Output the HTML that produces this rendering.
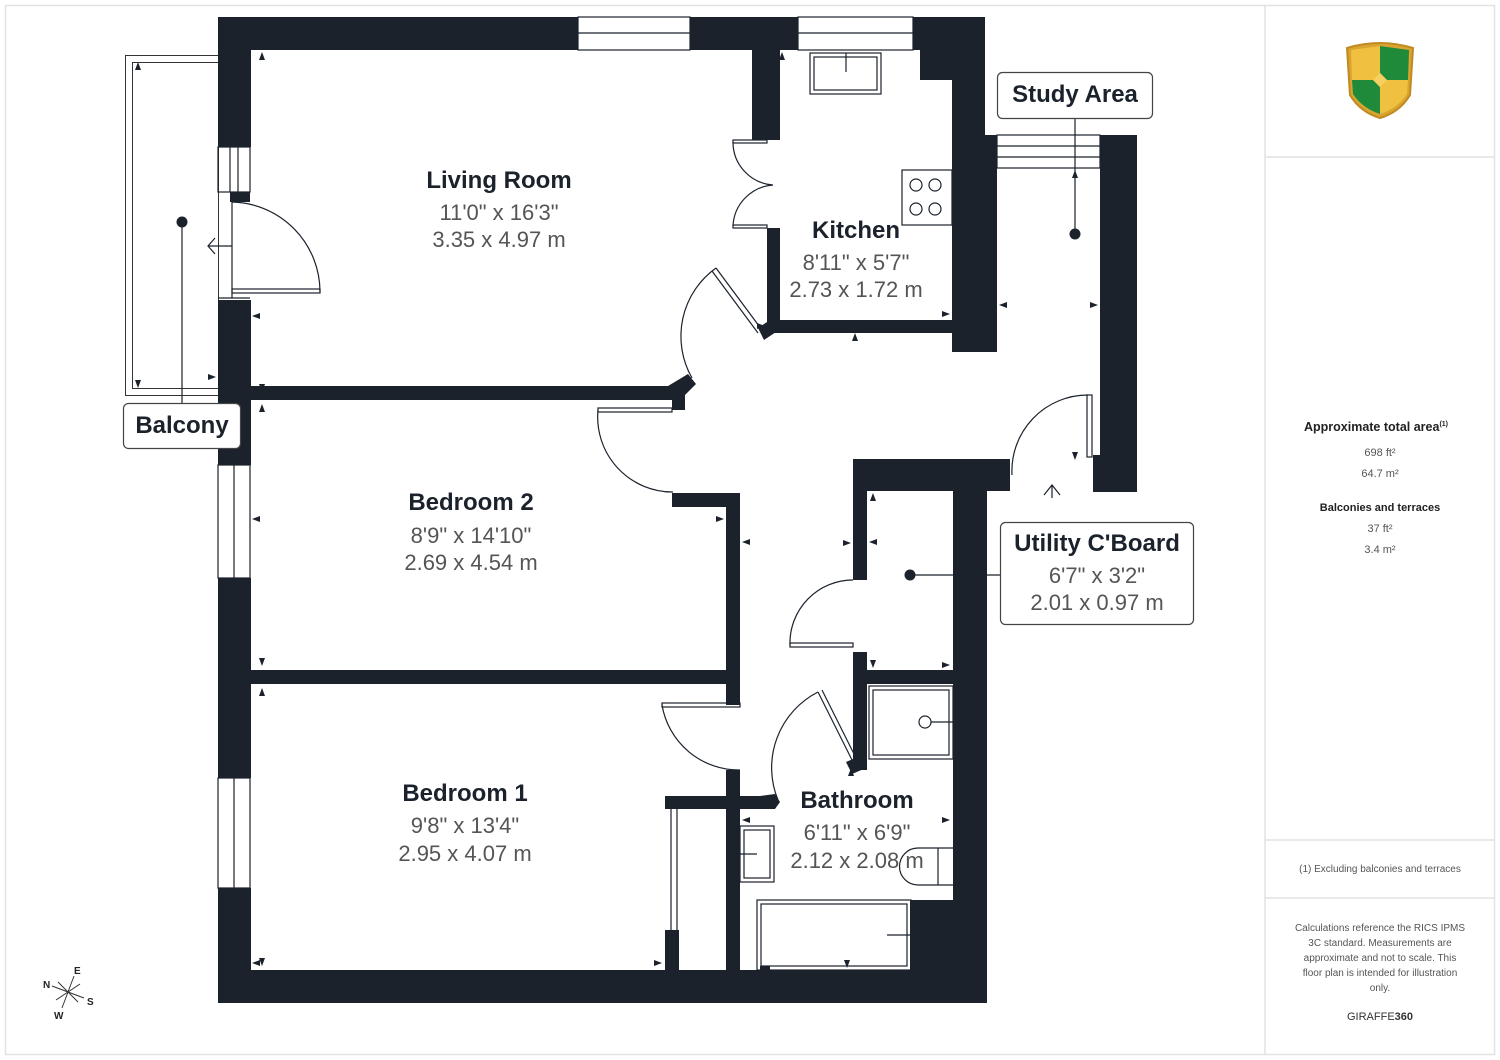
<!DOCTYPE html>
<html><head><meta charset="utf-8"><style>
html,body{margin:0;padding:0;background:#fff;width:1500px;height:1060px;overflow:hidden}
svg{display:block}
.rt{font-family:"Liberation Sans",sans-serif;font-weight:bold;font-size:24px;fill:#1b222c;text-anchor:middle}
.dm{font-family:"Liberation Sans",sans-serif;font-size:22px;fill:#555;text-anchor:middle}
.lb{font-family:"Liberation Sans",sans-serif;font-weight:bold;font-size:24px;fill:#1b222c;text-anchor:middle}
.pt{font-family:"Liberation Sans",sans-serif;font-size:11px;fill:#555;text-anchor:middle}
.pb{font-family:"Liberation Sans",sans-serif;font-size:12.5px;font-weight:bold;fill:#222;text-anchor:middle}
</style></head><body>
<svg width="1500" height="1060" viewBox="0 0 1500 1060" xmlns="http://www.w3.org/2000/svg">
<rect x="5.5" y="5.5" width="1489" height="1049" fill="#fff" stroke="#e2e2e2" stroke-width="1.5"/>
<line x1="1265" y1="5" x2="1265" y2="1055" stroke="#e2e2e2" stroke-width="1.5"/>
<line x1="1265" y1="157" x2="1495" y2="157" stroke="#e2e2e2" stroke-width="1.5"/>
<line x1="1265" y1="840" x2="1495" y2="840" stroke="#e2e2e2" stroke-width="1.5"/>
<line x1="1265" y1="898" x2="1495" y2="898" stroke="#e2e2e2" stroke-width="1.5"/>

<!-- logo -->
<g>
<path d="M1347 48 Q1380 38 1413 48 L1410 95 Q1400 112 1380 118 Q1360 112 1350 95 Z" fill="#d9a530" stroke="#c08a20" stroke-width="2"/>
<path d="M1380 46 L1409 50 L1408 80 L1380 80 Z" fill="#1f8a3a"/>
<path d="M1352 80 L1380 80 L1380 114 Q1362 108 1353 94 Z" fill="#1f8a3a"/>
<path d="M1351 50 L1380 46 L1380 80 L1352 80 Z" fill="#f0c040"/>
<path d="M1380 80 L1408 80 L1407 94 Q1398 108 1380 114 Z" fill="#f0c040"/>
<rect x="1375" y="75" width="10" height="10" fill="#f5d060" transform="rotate(45 1380 80)"/>
</g>

<!-- panel text -->
<text x="1376" y="431" class="pb">Approximate total area<tspan font-size="7" dy="-5">(1)</tspan></text>
<text x="1380" y="456" class="pt">698 ft²</text>
<text x="1380" y="477" class="pt">64.7 m²</text>
<text x="1380" y="511" class="pb" style="font-size:11px">Balconies and terraces</text>
<text x="1380" y="532" class="pt">37 ft²</text>
<text x="1380" y="553" class="pt">3.4 m²</text>
<text x="1380" y="872" class="pt" style="font-size:10px">(1) Excluding balconies and terraces</text>
<g class="pt" style="font-size:10px">
<text x="1380" y="931" class="pt" style="font-size:10px">Calculations reference the RICS IPMS</text>
<text x="1380" y="946" class="pt" style="font-size:10px">3C standard. Measurements are</text>
<text x="1380" y="961" class="pt" style="font-size:10px">approximate and not to scale. This</text>
<text x="1380" y="976" class="pt" style="font-size:10px">floor plan is intended for illustration</text>
<text x="1380" y="991" class="pt" style="font-size:10px">only.</text>
</g>
<text x="1380" y="1020" class="pt" style="font-size:11px;fill:#333">GIRAFFE<tspan font-weight="bold">360</tspan></text>

<!-- balcony -->
<rect x="125.5" y="55.5" width="93" height="340" fill="none" stroke="#333" stroke-width="1"/>
<rect x="132.5" y="62.5" width="86" height="326" fill="none" stroke="#333" stroke-width="1"/>

<g fill="#1b222c">
<!-- top wall -->
<rect x="218" y="17" width="360" height="33"/>
<rect x="690" y="17" width="108" height="33"/>
<rect x="913" y="17" width="72" height="33"/>
<rect x="920" y="50" width="65" height="30"/>
<rect x="952" y="80" width="33" height="55"/>
<rect x="952" y="135" width="45" height="217"/>
<!-- study -->
<rect x="1100" y="135" width="37" height="357"/>
<rect x="1093" y="455" width="44" height="37"/>
<!-- left wall -->
<rect x="218" y="17" width="33" height="130"/>
<rect x="230" y="192" width="20" height="10"/>
<rect x="218" y="300" width="33" height="165"/>
<rect x="218" y="578" width="33" height="200"/>
<rect x="218" y="888" width="33" height="115"/>
<!-- bottom -->
<rect x="218" y="970" width="769" height="33"/>
<!-- right exterior -->
<rect x="853" y="459" width="157" height="32"/>
<rect x="953" y="459" width="34" height="544"/>
<rect x="910" y="900" width="77" height="103"/>
<!-- living/bed2 -->
<rect x="250" y="386" width="430" height="14"/>
<polygon points="668,386 688,374 696,384 685,395 685,410 672,410 672,400 668,400"/>
<!-- living/kitchen -->
<rect x="752" y="50" width="28" height="90"/>
<rect x="767" y="228" width="13" height="102"/>
<rect x="767" y="320" width="185" height="13"/>
<polygon points="758,328 770,320 776,332 764,340"/>
<!-- bedroom2 right -->
<rect x="672" y="493" width="68" height="14"/>
<rect x="726" y="493" width="14" height="212"/>
<rect x="250" y="670" width="490" height="14"/>
<!-- bedroom1 -->
<rect x="726" y="770" width="14" height="200"/>
<rect x="665" y="796" width="100" height="13"/>
<polygon points="760,796 775,794 780,802 775,809 760,809"/>
<rect x="665" y="930" width="14" height="40"/>
<!-- utility -->
<rect x="853" y="459" width="14" height="121"/>
<rect x="853" y="652" width="14" height="118"/>
<rect x="853" y="670" width="100" height="14"/>
<polygon points="846,762 860,756 866,768 852,774"/>
</g>

<g fill="none" stroke="#1b222c" stroke-width="1.2">
<!-- windows -->
<rect x="578" y="17" width="112" height="33"/><line x1="578" y1="33" x2="690" y2="33"/>
<rect x="798" y="17" width="115" height="33"/><line x1="798" y1="33" x2="913" y2="33"/>
<rect x="997" y="135" width="103" height="33"/><line x1="997" y1="146" x2="1100" y2="146"/><line x1="997" y1="157" x2="1100" y2="157"/>
<rect x="218" y="147" width="32" height="45"/><line x1="230" y1="147" x2="230" y2="192"/><line x1="238" y1="147" x2="238" y2="192"/>
<rect x="218" y="465" width="32" height="113"/><line x1="234" y1="465" x2="234" y2="578"/>
<rect x="218" y="778" width="32" height="110"/><line x1="234" y1="778" x2="234" y2="888"/>
<line x1="232" y1="202" x2="232" y2="298"/>
<line x1="218" y1="298" x2="250" y2="298"/>
<path d="M215 238 L208 246 L215 254 M208 246 L232 246"/>
<!-- doors -->
<path d="M232 202 A90 90 0 0 1 320 292"/><rect x="232" y="289" width="88" height="4"/>
<path d="M716 268 A84 84 0 0 0 692 378"/><line x1="716" y1="268" x2="762" y2="330"/><line x1="712" y1="271" x2="758" y2="333"/>
<path d="M598 410 A75 75 0 0 0 673 492"/><rect x="598" y="408" width="74" height="4"/>
<rect x="733" y="140" width="34" height="3"/><path d="M733 142 A43 43 0 0 0 773 185 A43 43 0 0 0 733 226"/><rect x="733" y="225" width="34" height="3"/>
<path d="M790 645 A63 63 0 0 1 853 580"/><rect x="790" y="643" width="63" height="4"/>
<path d="M818 692 A85 85 0 0 0 778 800"/><line x1="818" y1="692" x2="853" y2="762"/><line x1="822" y1="690" x2="857" y2="760"/>
<path d="M662 705 A78 78 0 0 0 740 770"/><rect x="662" y="703" width="78" height="4"/>
<path d="M1088 395 A76 76 0 0 0 1012 475"/><rect x="1087" y="395" width="5" height="62"/>
<path d="M1044 495 L1052 485 L1060 495 M1052 485 L1052 498"/>
<line x1="671" y1="809" x2="671" y2="930"/><line x1="677" y1="809" x2="677" y2="930"/>
<!-- fixtures -->
<rect x="810" y="53" width="71" height="41"/><rect x="814" y="57" width="63" height="33"/><line x1="846" y1="53" x2="846" y2="72"/>
<rect x="902" y="170" width="50" height="55"/>
<circle cx="916" cy="185" r="6"/><circle cx="935" cy="185" r="6"/><circle cx="916" cy="209" r="6"/><circle cx="935" cy="209" r="6"/>
<rect x="869" y="686" width="84" height="73"/><rect x="873" y="690" width="76" height="65"/>
<circle cx="925" cy="722" r="6"/><line x1="931" y1="722" x2="953" y2="722"/>
<rect x="740" y="826" width="34" height="56"/><rect x="744" y="830" width="26" height="48"/><line x1="740" y1="854" x2="757" y2="854"/>
<rect x="757" y="900" width="154" height="70"/><rect x="761" y="904" width="146" height="62"/><line x1="887" y1="935" x2="911" y2="935"/>
<path d="M953 848 L918 848 A18 18 0 0 0 918 885 L953 885 M938 848 L938 885"/>
</g>
<polygon points="760,970 770,970 770,966 760,966" fill="#1b222c"/>

<!-- small dimension arrows -->
<g fill="#1b222c">
<path d="M262 52 l-3 8 h6z"/><path d="M262 392 l-3 -8 h6z"/><path d="M262 404 l-3 8 h6z"/><path d="M262 666 l-3 -8 h6z"/><path d="M262 688 l-3 8 h6z"/><path d="M262 966 l-3 -8 h6z"/>
<path d="M252 316 l8 -3 v6z"/><path d="M252 519 l8 -3 v6z"/><path d="M252 963 l8 -3 v6z"/>
<path d="M742 542 l8 -3 v6z"/><path d="M724 519 l-8 -3 v6z"/><path d="M662 963 l-8 -3 v6z"/>
<path d="M138 62 l-3 8 h6z"/><path d="M138 388 l-3 -8 h6z"/><path d="M216 377 l-8 -3 v6z"/>
<path d="M782 52 l-3 8 h6z"/><path d="M855 333 l-3 8 h6z"/><path d="M950 314 l-8 -3 v6z"/><path d="M765 326 l-8 -3 v6z"/>
<path d="M999 305 l8 -3 v6z"/><path d="M1098 305 l-8 -3 v6z"/><path d="M1075 170 l-3 8 h6z"/><path d="M1075 460 l-3 -8 h6z"/>
<path d="M873 493 l-3 8 h6z"/><path d="M851 543 l-8 -3 v6z"/><path d="M869 542 l8 -3 v6z"/><path d="M873 668 l-3 -8 h6z"/><path d="M950 665 l-8 -3 v6z"/>
<path d="M742 820 l8 -3 v6z"/><path d="M950 820 l-8 -3 v6z"/><path d="M851 768 l-3 8 h6z"/><path d="M847 968 l-3 -8 h6z"/>
</g>

<!-- labels with leaders -->
<g stroke="#1b222c" stroke-width="1.2" fill="none">
<line x1="182" y1="222" x2="182" y2="403"/>
<line x1="1075" y1="118" x2="1075" y2="234"/>
<line x1="910" y1="575" x2="1000" y2="575"/>
</g>
<g fill="#1b222c"><circle cx="182" cy="222" r="5.5"/><circle cx="1075" cy="234" r="5.5"/><circle cx="910" cy="575" r="5.5"/></g>
<g fill="#fff" stroke="#444" stroke-width="1.2">
<rect x="123.5" y="403.5" width="117" height="45" rx="5"/>
<rect x="997.5" y="72.5" width="155" height="46" rx="5"/>
<rect x="1000.5" y="522.5" width="193" height="102" rx="5"/>
</g>
<text x="182" y="433" class="lb">Balcony</text>
<text x="1075" y="102" class="lb">Study Area</text>
<text x="1097" y="551" class="lb">Utility C'Board</text>
<text x="1097" y="583" class="dm">6'7" x 3'2"</text>
<text x="1097" y="610" class="dm">2.01 x 0.97 m</text>

<!-- room labels -->
<text x="499" y="188" class="rt">Living Room</text>
<text x="499" y="220" class="dm">11'0" x 16'3"</text>
<text x="499" y="247" class="dm">3.35 x 4.97 m</text>
<text x="856" y="238" class="rt">Kitchen</text>
<text x="856" y="270" class="dm">8'11" x 5'7"</text>
<text x="856" y="297" class="dm">2.73 x 1.72 m</text>
<text x="471" y="510" class="rt">Bedroom 2</text>
<text x="471" y="543" class="dm">8'9" x 14'10"</text>
<text x="471" y="570" class="dm">2.69 x 4.54 m</text>
<text x="465" y="801" class="rt">Bedroom 1</text>
<text x="465" y="833" class="dm">9'8" x 13'4"</text>
<text x="465" y="861" class="dm">2.95 x 4.07 m</text>
<text x="857" y="808" class="rt">Bathroom</text>
<text x="857" y="840" class="dm">6'11" x 6'9"</text>
<text x="857" y="868" class="dm">2.12 x 2.08 m</text>

<!-- compass -->
<g stroke="#333" stroke-width="1">
<line x1="52" y1="986" x2="84" y2="998"/><line x1="62" y1="1008" x2="74" y2="976"/>
<line x1="56" y1="1000" x2="80" y2="984"/><line x1="58" y1="982" x2="78" y2="1002"/>
</g>
<g font-family="Liberation Sans,sans-serif" font-size="10" font-weight="bold" fill="#222">
<text x="74" y="974">E</text><text x="43" y="988">N</text><text x="87" y="1005">S</text><text x="54" y="1019">W</text>
</g>
</svg>
</body></html>
